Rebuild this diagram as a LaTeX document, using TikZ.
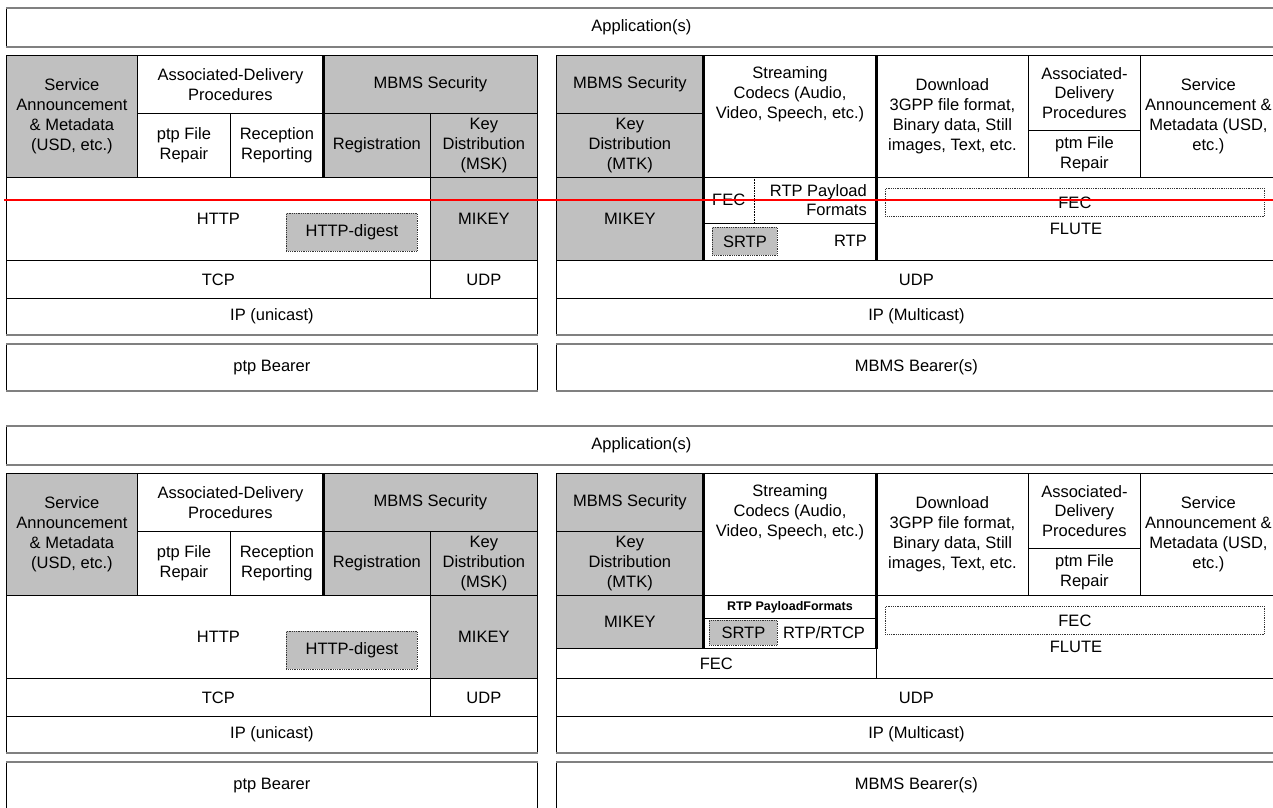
\documentclass[tikz,border=0pt]{standalone}
\usepackage{fontspec}
\setmainfont{Liberation Sans}
\definecolor{secgray}{RGB}{192,192,192}
\newcommand{\lblfont}{\fontsize{16.5}{19.8}\selectfont}
\tikzstyle{cell} = [rectangle, draw=black, line width=0.8pt, inner sep=0pt, align=center, font=\lblfont]
\tikzstyle{sec} = [cell, fill=secgray]
\tikzstyle{dotbox} = [cell, densely dotted, draw=black!80]
\tikzstyle{secdot} = [dotbox, fill=secgray]
\tikzstyle{txt} = [inner sep=0pt, align=center, font=\lblfont]
\tikzstyle{grayrule} = [draw=gray, line width=2pt]
\tikzstyle{thickrule} = [line width=3pt]
\tikzstyle{dotrule} = [densely dotted, line width=0.6pt]
\tikzstyle{redline} = [draw=red, line width=1.5pt]

% \layerbox[style]{name}{x1}{y1}{x2}{y2}{text}
\newcommand{\layerbox}[6][cell]{\node (#2) [#1, anchor=north west, minimum width={#5-#3}, minimum height={#6-#4}] at (#3,#4)}

\newcommand{\stacklayers}[1]{%
\layerbox{#1app}{6}{8}{1276}{46} {Application(s)};
\draw [grayrule] (#1app.north west) -- (#1app.north east);
\draw [grayrule] (#1app.south west) -- (#1app.south east);
% ptp side
\layerbox[sec]{#1sa}{6}{55}{137}{177} {Service\\Announcement\\\& Metadata\\(USD, etc.)};
\layerbox{#1adp}{137}{55}{323}{113} {Associated-Delivery\\Procedures};
\layerbox{#1pfr}{137}{113}{230}{177} {ptp File\\Repair};
\layerbox{#1rrep}{230}{113}{323}{177} {Reception\\Reporting};
\layerbox[sec]{#1msec}{323}{55}{537}{113} {MBMS Security};
\layerbox[sec]{#1reg}{323}{113}{430}{177} {Registration};
\layerbox[sec]{#1msk}{430}{113}{537}{177} {Key\\Distribution\\(MSK)};
\layerbox{#1http}{6}{177}{430}{260} {HTTP};
\layerbox[secdot]{#1digest}{286}{213}{417}{251} {HTTP-digest};
\layerbox[sec]{#1mikey}{430}{177}{537}{260} {MIKEY};
\layerbox{#1tcp}{6}{260}{430}{298} {TCP};
\layerbox{#1udp}{430}{260}{537}{298} {UDP};
\layerbox{#1ipu}{6}{298}{537}{334} {IP (unicast)};
\draw [grayrule] (#1ipu.south west) -- (#1ipu.south east);
\layerbox{#1ptp}{6}{344}{537}{390} {ptp Bearer};
\draw [grayrule] (#1ptp.north west) -- (#1ptp.north east);
\draw [grayrule] (#1ptp.south west) -- (#1ptp.south east);
\draw [thickrule] (#1adp.north east) -- (#1rrep.south east);
% ptm side
\layerbox[sec]{#1rsec}{556}{55}{703}{113} {MBMS Security};
\layerbox[sec]{#1mtk}{556}{113}{703}{177} {Key\\Distribution\\(MTK)};
\layerbox{#1strm}{703}{55}{876}{177} {};
\node (#1strmtxt) [txt] at (790,94) {Streaming\\Codecs (Audio,\\Video, Speech, etc.)};
\layerbox{#1dl}{876}{55}{1028}{177} {Download\\3GPP file format,\\Binary data, Still\\images, Text, etc.};
\layerbox{#1radp}{1028}{55}{1140}{130} {Associated-\\Delivery\\Procedures};
\layerbox{#1ptm}{1028}{130}{1140}{177} {ptm File\\Repair};
\layerbox{#1rsa}{1140}{55}{1276}{177} {Service\\Announcement \&\\Metadata (USD,\\etc.)};
\layerbox{#1flute}{876}{177}{1276}{260} {};
\layerbox[dotbox]{#1rfec}{885}{188}{1264}{216} {FEC};
\node (#1flutetxt) [txt] at (1076,229) {FLUTE};
\layerbox{#1rudp}{556}{260}{1276}{298} {UDP};
\layerbox{#1ipm}{556}{298}{1276}{334} {IP (Multicast)};
\draw [grayrule] (#1ipm.south west) -- (#1ipm.south east);
\layerbox{#1mbms}{556}{344}{1276}{390} {MBMS Bearer(s)};
\draw [grayrule] (#1mbms.north west) -- (#1mbms.north east);
\draw [grayrule] (#1mbms.south west) -- (#1mbms.south east);
}

\begin{document}
\begin{tikzpicture}[x=1pt, y=-1pt]
\useasboundingbox (0,0) rectangle (1273,807);
\clip (0,0) rectangle (1273,807);
\fill [white] (0,0) rectangle (1273,807);

% first stack
\stacklayers{a}
\layerbox[sec]{amikeyr}{556}{177}{703}{260} {MIKEY};
\layerbox{apay}{703}{177}{876}{223} {};
\layerbox[txt]{afecs}{703}{177}{754}{223} {FEC};
\draw [dotrule] (afecs.north east) -- (afecs.south east);
\node (apaytxt) [txt, align=right, anchor=east] at (867,200) {RTP Payload\\Formats};
\layerbox{artp}{703}{223}{876}{260} {};
\layerbox[secdot]{asrtp}{712}{227}{777}{255} {SRTP};
\node (artptxt) [txt, anchor=east] at (867,241) {RTP};
\draw [thickrule] (arsec.north east) -- (amikeyr.south east);
\draw [thickrule] (astrm.north east) -- (artp.south east);
\draw [redline] (4,200) -- (1276,200);

% second stack
\begin{scope}[yshift=-418pt]
\stacklayers{b}
\layerbox[sec]{bmikeyr}{556}{177}{703}{230} {MIKEY};
\layerbox[cell, font=\fontsize{12.5}{15}\selectfont\bfseries]{bpay}{703}{177}{876}{200} {RTP PayloadFormats};
\layerbox{brtcp}{703}{200}{876}{230} {};
\layerbox[secdot]{bsrtp}{709}{202}{777}{227} {SRTP};
\node (brtcptxt) [txt] at (824,215) {RTP/RTCP};
\layerbox{bfec}{556}{230}{876}{260} {FEC};
\draw [thickrule] (brsec.north east) -- (bmikeyr.south east);
\draw [thickrule] (bstrm.north east) -- (brtcp.south east);
\end{scope}
\end{tikzpicture}
\end{document}
